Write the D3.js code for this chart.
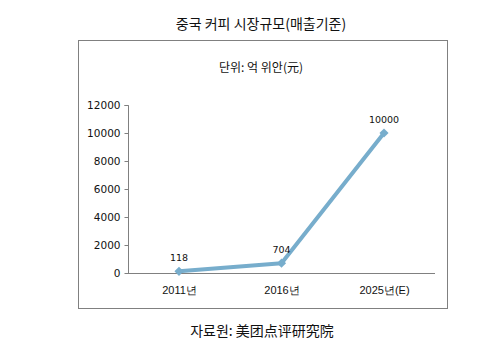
<!DOCTYPE html>
<html><head><meta charset="utf-8">
<script src="https://cdn.jsdelivr.net/npm/d3@7"></script>
<style>body{margin:0;background:#fff;}svg{display:block;font-family:"Noto Sans CJK KR","DejaVu Sans",sans-serif;}</style>
</head><body>
<script>
const categories = ["2011년", "2016년", "2025년(E)"];
const values = [118, 704, 10000];
const yTicks = [0, 2000, 4000, 6000, 8000, 10000, 12000];

const W = 496, H = 354;
const svg = d3.select("body").append("svg").attr("width", W).attr("height", H);

svg.append("rect").attr("x", 78.5).attr("y", 40.5).attr("width", 369).attr("height", 268)
  .attr("fill", "none").attr("stroke", "#808080").attr("stroke-width", 1);

svg.append("text").attr("x", 261).attr("y", 29).attr("text-anchor", "middle")
  .attr("font-size", 14).attr("fill", "#111").text("중국 커피 시장규모(매출기준)");
svg.append("text").attr("x", 261).attr("y", 72).attr("text-anchor", "middle")
  .attr("font-size", 12).attr("fill", "#111").text("단위: 억 위안(元)");
svg.append("text").attr("x", 262).attr("y", 336).attr("text-anchor", "middle")
  .attr("font-size", 14).attr("fill", "#111").text("자료원: 美团点评研究院");

const x = d3.scalePoint().domain(categories).range([179, 384]);
const y = d3.scaleLinear().domain([0, 12000]).range([273, 105]);

const yAxis = svg.append("g").attr("transform", "translate(128.5,0)")
  .call(d3.axisLeft(y).tickValues(yTicks).tickSize(4).tickPadding(4).tickFormat(d3.format("d")));
yAxis.select(".domain").attr("stroke", "#808080").attr("d", "M-4,105.5H0V273.5");
yAxis.selectAll(".tick line").attr("stroke", "#808080");
yAxis.selectAll(".tick text").attr("fill", "#111")
  .attr("font-family", "'DejaVu Sans', sans-serif").style("font-size", "10.5px");

const xAxis = svg.append("g").attr("transform", "translate(0,273.5)")
  .call(d3.axisBottom(x).tickSize(0).tickPadding(13));
xAxis.select(".domain").attr("stroke", "#808080").attr("d", "M128,0H435");
xAxis.selectAll(".tick text").attr("font-size", 11).attr("fill", "#111");

const line = d3.line().x((d, i) => x(categories[i])).y(d => y(d));
svg.append("path").datum(values).attr("d", line).attr("fill", "none")
  .attr("stroke", "#77adcc").attr("stroke-width", 4).attr("stroke-linejoin", "round");

svg.selectAll(".pt").data(values).enter().append("path")
  .attr("transform", (d, i) => `translate(${x(categories[i])},${y(d)}) rotate(45)`)
  .attr("d", d3.symbol().type(d3.symbolSquare).size(42)).attr("fill", "#77adcc");

svg.selectAll(".lbl").data(values).enter().append("text")
  .attr("x", (d, i) => x(categories[i]))
  .attr("y", d => y(d) - 10).attr("text-anchor", "middle")
  .attr("fill", "#111").attr("font-family", "'DejaVu Sans', sans-serif")
  .style("font-size", "9.5px").text(d => d);
</script>
</body></html>
